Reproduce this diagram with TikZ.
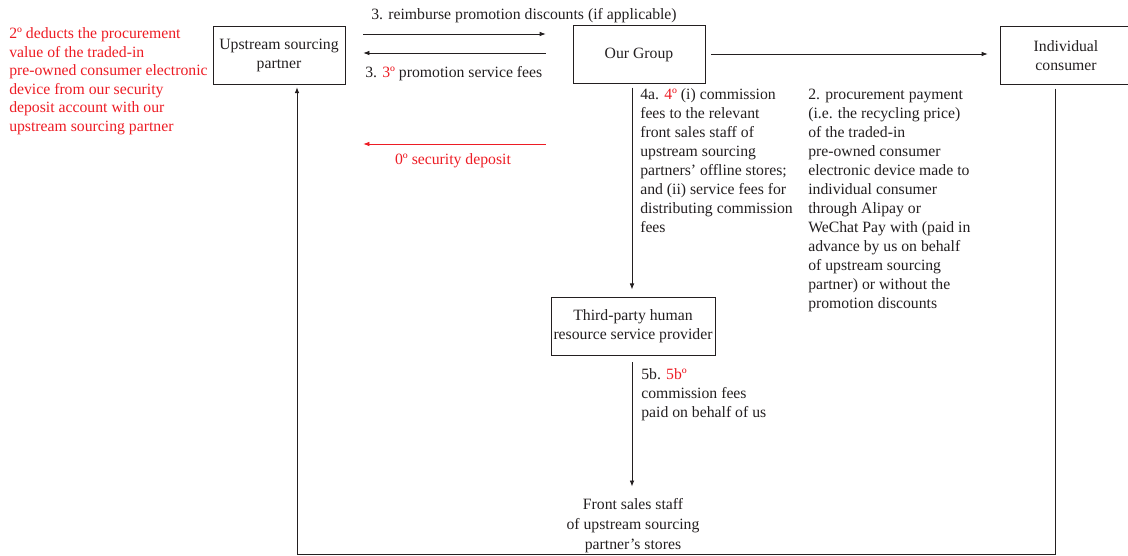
\documentclass[tikz,border=0pt]{standalone}
\usepackage{fontspec}
\setmainfont{Liberation Serif}
\usetikzlibrary{arrows.meta}
\definecolor{ink}{RGB}{35,31,32}
\definecolor{hl}{RGB}{237,28,36}
\begin{document}
\begin{tikzpicture}[x=0.75pt,y=-0.75pt,
  every node/.style={font=\fontsize{11.8pt}{14.25pt}\selectfont, text=ink},
  box/.style={draw=ink, line width=0.6pt, align=center, inner sep=0pt, minimum width=99pt, minimum height=43pt},
  lbl/.style={inner sep=0pt, align=left},
  arr/.style={draw=ink, line width=0.6pt, -{Latex[length=4.5pt,width=3.5pt]}},
  redarr/.style={arr, draw=hl},
]
\useasboundingbox (0,0) rectangle (1128,556);
% boxes
\node[box] (up) at (279,55.5) {Upstream sourcing\\partner};
\node[box] (grp) at (639,54.5) {Our Group};
\node[box] (con) at (1066,55.5) {Individual\\consumer};
\node[box, minimum width=123pt] (hr) at (633,326.5) {Third-party human\\resource service provider};
\node[lbl, align=center, anchor=north, font=\fontsize{11.8pt}{15pt}\selectfont] (front) at (633,498.5) {Front sales staff\\of upstream sourcing\\partner’s stores};
% labels
\node[lbl, anchor=north west] (t3a) at (371,8) {3. reimburse promotion discounts (if applicable)};
\node[lbl, anchor=north west] (t3b) at (365,66) {3. \textcolor{hl}{3º} promotion service fees};
\node[lbl, anchor=north, text=hl] (t0) at (453,153.5) {0º security deposit};
\node[lbl, anchor=north west, text=hl, font=\fontsize{11.8pt}{13.9pt}\selectfont] (t2r) at (9,27.5) {2º deducts the procurement\\value of the traded-in\\pre-owned consumer electronic\\device from our security\\deposit account with our\\upstream sourcing partner};
\node[lbl, anchor=north west] (t4a) at (640,88) {4a. \textcolor{hl}{4º} (i) commission\\fees to the relevant\\front sales staff of\\upstream sourcing\\partners’ offline stores;\\and (ii) service fees for\\distributing commission\\fees};
\node[lbl, anchor=north west] (t2) at (808,88.5) {2. procurement payment\\(i.e. the recycling price)\\of the traded-in\\pre-owned consumer\\electronic device made to\\individual consumer\\through Alipay or\\WeChat Pay with (paid in\\advance by us on behalf\\of upstream sourcing\\partner) or without the\\promotion discounts};
\node[lbl, anchor=north west] (t5b) at (641,368.5) {5b. \textcolor{hl}{5bº}\\commission fees\\paid on behalf of us};
% connectors
\draw[arr, shorten <=13.5pt, shorten >=20.25pt] (up.east |- 0,34) -- (grp.west |- 0,34);
\draw[arr, shorten <=20.25pt, shorten >=13.5pt] (grp.west |- 0,53) -- (up.east |- 0,53);
\draw[redarr, shorten <=20.25pt, shorten >=13.5pt] (grp.west |- 0,144) -- (up.east |- 0,144);
\draw[arr, shorten <=4.5pt, shorten >=9pt] (grp.east |- 0,54) -- (con.west |- 0,54);
\draw[arr, shorten <=3pt, shorten >=6pt] (632,0 |- grp.south) -- (632,0 |- hr.north);
\draw[arr, shorten <=5pt, shorten >=9pt] (632,0 |- hr.south) -- (632,0 |- front.north);
\draw[arr, shorten <=3pt, shorten >=2pt] (con.south -| 1055,0) -- (1055,554) -- (297,554) -- (up.south -| 297,0);
\end{tikzpicture}
\end{document}
